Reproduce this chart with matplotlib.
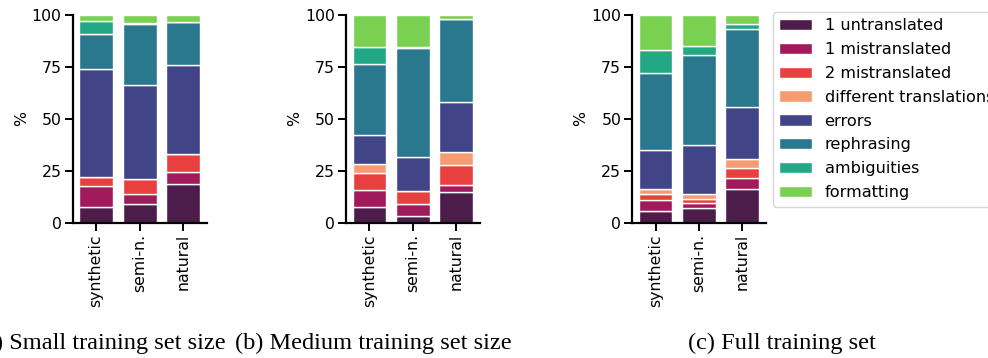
import matplotlib.pyplot as plt
import numpy as np
from matplotlib.patches import Patch

plt.rcParams["font.family"] = ["DejaVu Sans"]
plt.rcParams["font.size"] = 11.3

CATEGORIES = ["synthetic", "semi-n.", "natural"]
ERROR_TYPES = [
    "1 untranslated",
    "1 mistranslated",
    "2 mistranslated",
    "different translations",
    "errors",
    "rephrasing",
    "ambiguities",
    "formatting",
]
COLORS = ["#4c1d4b", "#a11a5b", "#e83f3f", "#f69c73",
          "#414487", "#2a788e", "#22a884", "#7ad151"]

# percentages per category, one list per error type (synthetic, semi-n., natural)
small_untranslated = [7.7, 9.3, 18.6]
small_mistranslated_1 = [10.0, 4.7, 6.1]
small_mistranslated_2 = [4.3, 7.2, 8.4]
small_different = [0.0, 0.0, 0.0]
small_errors = [51.8, 45.1, 42.8]
small_rephrasing = [17.1, 29.5, 20.7]
small_ambiguities = [6.2, 0.4, 0.0]
small_formatting = [2.9, 3.8, 3.4]

medium_untranslated = [7.7, 3.4, 14.9]
medium_mistranslated_1 = [8.0, 5.6, 3.2]
medium_mistranslated_2 = [8.4, 6.2, 10.0]
medium_different = [4.5, 0.0, 5.8]
medium_errors = [13.6, 16.6, 24.4]
medium_rephrasing = [34.2, 52.5, 39.8]
medium_ambiguities = [8.2, 0.5, 0.0]
medium_formatting = [15.4, 15.2, 1.9]

full_untranslated = [5.8, 7.0, 16.3]
full_mistranslated_1 = [5.2, 2.8, 5.1]
full_mistranslated_2 = [3.1, 1.7, 5.0]
full_different = [2.4, 2.6, 4.3]
full_errors = [18.4, 23.2, 25.0]
full_rephrasing = [37.1, 43.7, 37.6]
full_ambiguities = [11.4, 4.1, 2.5]
full_formatting = [16.6, 14.9, 4.2]

SMALL = [small_untranslated, small_mistranslated_1, small_mistranslated_2, small_different,
         small_errors, small_rephrasing, small_ambiguities, small_formatting]
MEDIUM = [medium_untranslated, medium_mistranslated_1, medium_mistranslated_2, medium_different,
          medium_errors, medium_rephrasing, medium_ambiguities, medium_formatting]
FULL = [full_untranslated, full_mistranslated_1, full_mistranslated_2, full_different,
        full_errors, full_rephrasing, full_ambiguities, full_formatting]

CAPTIONS = ["(a) Small training set size", "(b) Medium training set size", "(c) Full training set"]

W, H = 988, 358
fig = plt.figure(figsize=(W / 100, H / 100), dpi=100)


def px_axes(left, right, top, bottom):
    return fig.add_axes([left / W, 1 - bottom / H, (right - left) / W, (bottom - top) / H])


panels = [
    (SMALL, px_axes(72.7, 207, 15, 223)),
    (MEDIUM, px_axes(346, 480, 15, 223)),
    (FULL, px_axes(632.3, 765.7, 15, 223)),
]

x = np.arange(len(CATEGORIES))
for data, ax in panels:
    bottom = np.zeros(len(CATEGORIES))
    for vals, color in zip(data, COLORS):
        vals = np.array(vals)
        ax.bar(x, vals, 0.78, bottom=bottom, color=color,
               edgecolor="white", linewidth=1.0)
        bottom += vals
    ax.set_xlim(-0.54, 2.55)
    ax.set_ylim(0, 100)
    ax.set_yticks([0, 25, 50, 75, 100])
    ax.set_xticks(x)
    ax.set_xticklabels(CATEGORIES, rotation=90)
    ax.set_ylabel("%", labelpad=2)
    for side in ["top", "right"]:
        ax.spines[side].set_visible(False)
    for side in ["left", "bottom"]:
        ax.spines[side].set_linewidth(1.6)
    ax.tick_params(width=1.4, length=6, pad=2)

handles = [Patch(facecolor=c, edgecolor="white") for c in COLORS]
fig.legend(handles, ERROR_TYPES, loc="upper left", fontsize=11.6,
           bbox_to_anchor=(773 / W, 1 - 11.7 / H), borderaxespad=0,
           labelspacing=0.55, handlelength=2.0, frameon=True, edgecolor="#cccccc")

# caption (a) is cut off at the left edge in the original as well
for cx, text in zip([101, 373, 781.5], CAPTIONS):
    fig.text(cx / W, 1 - 343 / H, text, ha="center", va="center",
             family="Liberation Serif", fontsize=17.6)

fig.savefig("out.png", dpi=100)
